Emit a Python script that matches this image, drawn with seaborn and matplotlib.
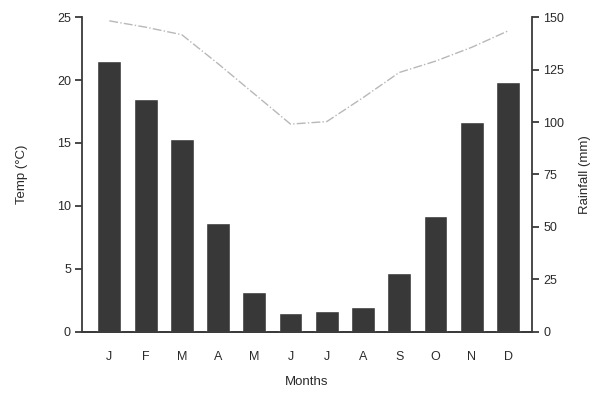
import matplotlib
matplotlib.use("Agg")
import matplotlib.pyplot as plt
import seaborn as sns
import pandas as pd

months = ["Jan", "Feb", "Mar", "Apr", "May", "Jun", "Jul", "Aug", "Sep", "Oct", "Nov", "Dec"]
month_labels = ["J", "F", "M", "A", "M", "J", "J", "A", "S", "O", "N", "D"]
temp_c = [24.7, 24.2, 23.6, 21.3, 18.9, 16.5, 16.7, 18.6, 20.6, 21.5, 22.6, 23.9]
rain_mm = [129, 111, 92, 52, 19, 9, 10, 12, 28, 55, 100, 119]

sns.set_theme(style="white")
plt.rcParams["font.family"] = ["Liberation Sans", "DejaVu Sans"]

df = pd.DataFrame({"month": months, "temp": temp_c, "rain": rain_mm})

fig = plt.figure(figsize=(5.95, 3.97), dpi=100)
ax = fig.add_axes([0.138, 0.164, 0.756, 0.793])
ax2 = ax.twinx()

sns.pointplot(data=df, x="month", y="temp", order=months, ax=ax, color="#b8b8b8",
              markers="", linestyles="-.", linewidth=1.0)
sns.barplot(data=df, x="month", y="rain", order=months, ax=ax2, color="#383838",
            width=0.66, saturation=1)

ax.set_xlim(-0.75, 11.66)
ax.set_ylim(0, 25)
ax2.set_ylim(0, 150)
ax.set_yticks([0, 5, 10, 15, 20, 25])
ax2.set_yticks([0, 25, 50, 75, 100, 125, 150])
ax.set_xticks(range(12))
ax.set_xticklabels(month_labels)

tc = "#2a2a2a"
for a in (ax, ax2):
    a.tick_params(axis="y", length=5, width=1.2, colors=tc, labelsize=9, pad=3)
    a.tick_params(axis="x", length=0, colors=tc, labelsize=9, pad=14)
    a.spines["top"].set_visible(False)
    for s in ("left", "right", "bottom"):
        a.spines[s].set_color("#3a3a3a")
        a.spines[s].set_linewidth(1.3)
ax.spines["right"].set_visible(False)
ax2.spines["left"].set_visible(False)

ax.set_ylabel("Temp (°C)", fontsize=9.5, color=tc, labelpad=21)
ax2.set_ylabel("Rainfall (mm)", fontsize=9.5, color=tc, labelpad=11)
ax2.yaxis.label.set_rotation(90)
ax.set_xlabel("Months", fontsize=9.5, color=tc, labelpad=9)
ax2.set_xlabel("")

fig.savefig("out.png", dpi=100, facecolor="white")
